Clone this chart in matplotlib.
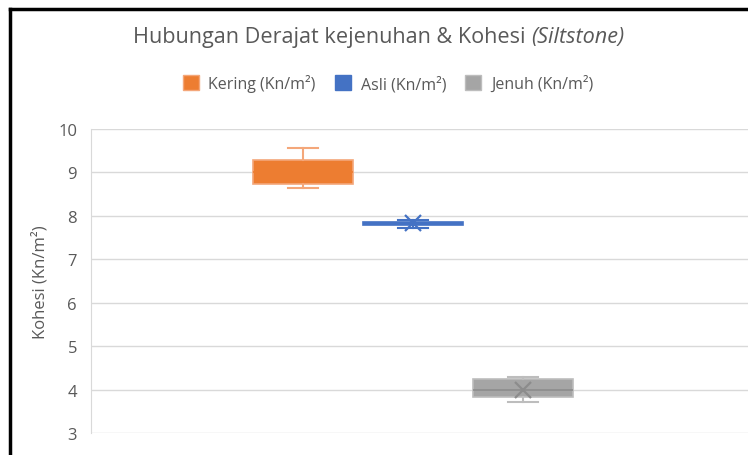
import matplotlib
matplotlib.use("Agg")
import matplotlib.pyplot as plt
from matplotlib.lines import Line2D
from matplotlib.patches import Patch

# series: Kering, Asli, Jenuh (Kn/m2)
names = ["Kering (Kn/m²)", "Asli (Kn/m²)", "Jenuh (Kn/m²)"]
whis_lo = [8.65, 7.72, 3.71]
q1 = [8.74, 7.79, 3.82]
med = [9.00, 7.83, 4.00]
q3 = [9.28, 7.87, 4.25]
whis_hi = [9.57, 7.90, 4.30]
means = [9.00, 7.83, 4.00]
yticks = [3, 4, 5, 6, 7, 8, 9, 10]

fills = ["#ED7D31", "#4472C4", "#A5A5A5"]
edges = ["#F4A77A", "#4472C4", "#BDBDBD"]
inner = ["#ED7D31", "#4472C4", "#8C8C8C"]

plt.rcParams["font.family"] = ["Open Sans", "DejaVu Sans"]

fig = plt.figure(figsize=(7.48, 4.56), dpi=100)
W, H = 748, 456
ax = fig.add_axes([91 / W, 1 - 434 / H, (W - 91) / W, (434 - 130) / H])

for i in range(3):
    stats = [dict(whislo=whis_lo[i], q1=q1[i], med=med[i], q3=q3[i],
                  whishi=whis_hi[i], mean=means[i], fliers=[])]
    ax.bxp(stats, positions=[i + 1], widths=0.91, patch_artist=True,
           showmeans=True, manage_ticks=False,
           boxprops=dict(facecolor=fills[i], edgecolor=edges[i], linewidth=1.2),
           whiskerprops=dict(color=edges[i], linewidth=1.5),
           capprops=dict(color=edges[i], linewidth=1.5),
           capwidths=0.27,
           medianprops=dict(color=inner[i], linewidth=1.2),
           meanprops=dict(marker="x", markeredgecolor=inner[i],
                          markersize=11, markeredgewidth=1.6))

ax.set_xlim(1 - (303 - 91) / 110, 1 - (303 - 91) / 110 + (W - 91) / 110)
ax.set_ylim(3, 10)
ax.set_yticks(yticks)
ax.set_xticks([])
ax.yaxis.grid(True, color="#D9D9D9", linewidth=1)
ax.set_axisbelow(True)
for s in ["top", "right", "bottom"]:
    ax.spines[s].set_visible(False)
ax.spines["left"].set_color("#D9D9D9")
ax.tick_params(axis="y", length=0, pad=10, labelsize=12, labelcolor="#595959")
ax.set_ylabel("Kohesi (Kn/m²)", fontsize=12, color="#595959", labelpad=7)

fig.text(531 / W, 1 - 37 / H, "Hubungan Derajat kejenuhan & Kohesi ",
         ha="right", va="center", fontsize=15.6, color="#595959")
fig.text(531 / W, 1 - 37 / H, "(Siltstone)", ha="left", va="center",
         fontsize=15.6, color="#595959", style="italic")

handles = [Patch(facecolor=fills[i], edgecolor=edges[i]) for i in range(3)]
fig.legend(handles, names, loc="center", bbox_to_anchor=(388 / W, 1 - 84 / H),
           ncol=3, frameon=False, fontsize=11.5, labelcolor="#595959",
           handlelength=1.0, handleheight=1.0, columnspacing=1.2, handletextpad=0.6)

# black frame on left and top
fig.add_artist(Line2D([10 / W, 10 / W], [0, 1 - 10 / H], color="black", linewidth=2.5))
fig.add_artist(Line2D([10 / W, 1], [1 - 10 / H, 1 - 10 / H], color="black", linewidth=2.5))

fig.savefig("out.png", dpi=100)
